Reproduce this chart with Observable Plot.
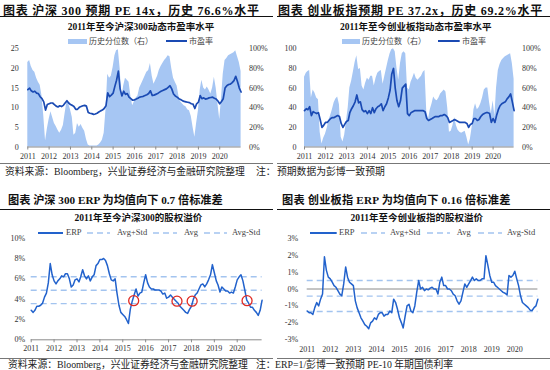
<!DOCTYPE html>
<html><head><meta charset="utf-8">
<script src="https://cdn.jsdelivr.net/npm/d3@7"></script>
<script src="https://cdn.jsdelivr.net/npm/@observablehq/plot@0.6"></script>
<style>
body{margin:0;background:#fff}
#root{position:relative;width:550px;height:370px;overflow:hidden;background:#fff;font-family:"Liberation Serif","Noto Sans CJK SC",serif;color:#222}
.t{position:absolute;white-space:nowrap;line-height:1}
.bar{position:absolute}
</style>
</head><body><div id="root"></div>
<script>
// ---------- data (monthly, starting Jan 2011) ----------
const yearLabels = [2011,2012,2013,2014,2015,2016,2017,2018,2019,2020];
const hs300PE = [14.6,15.0,14.3,14.0,14.2,13.7,13.6,12.8,12.3,11.5,9.4,10.8,
11.0,11.2,11.2,10.8,10.4,10.2,10.5,10.3,10.6,11.2,11.8,11.2,
10.8,10.6,10.3,9.6,9.6,10.1,10.3,10.5,10.6,10.4,8.8,8.6,
8.5,8.3,8.4,8.6,8.9,9.2,9.4,9.8,10.5,13.8,12.8,13.2,
13.7,15.5,17.0,19.3,14.8,13.0,14.2,13.4,13.6,12.7,12.3,11.9,
12.0,12.2,12.4,12.7,12.8,12.9,13.1,13.3,13.6,14.3,13.1,13.2,
13.4,13.6,13.9,14.2,14.4,14.6,14.8,15.2,15.6,14.8,13.5,13.0,
12.7,12.3,12.1,11.8,11.6,11.5,11.4,11.3,11.0,10.9,9.8,11.0,
11.4,13.1,12.3,12.5,12.2,12.3,12.5,12.6,12.7,12.4,12.2,11.7,
11.0,11.6,12.3,15.0,15.6,15.9,16.0,16.4,16.9,18.0,16.6,15.0,
14.0];
const hs300Pct = [86,88,82,78,76,70,66,63,52,32,6,18,
28,36,30,24,21,17,14,17,22,34,46,44,
38,30,12,14,24,20,23,19,16,8,2,1,
1,1,1,1,2,4,7,14,38,74,70,72,
81,93,98,99,80,50,62,70,68,66,52,42,
46,50,52,60,64,68,72,76,78,85,72,64,
68,72,78,82,85,88,90,93,92,80,70,66,
62,52,46,44,42,41,38,37,31,20,10,24,
37,58,68,60,58,61,58,54,60,71,60,44,
28,50,74,88,90,93,94,95,96,98,92,86,
77];
const cybPE = [37,39,38,41,32,36,35,34,35,28,20,22,
25,25,27,29,30,30,31,32,31,24,20,23,
26,27,35,39,42,46,53,45,46,38,36,37,
34,37,34,40,35,39,41,42,44,37,41,44,
50,58,74,80,60,47,41,47,60,62,64,34,
32,35,36,37,37,37,37,37,37,36,29,27,
28,29,30,31,31,31,32,32,33,32,30,25,
26,27,28,27,26,25,25,25,25,24,20,23,
24,29,29,27,28,31,33,34,35,35,34,25,
29,25,32,38,42,44,45,46,49,51,54,46,
37];
const cybPct = [71,75,77,78,50,58,55,50,48,15,3,9,
13,19,27,32,38,45,49,51,43,10,5,12,
26,40,60,67,76,86,93,79,80,62,58,65,
70,68,72,72,62,70,75,77,78,64,72,80,
88,95,99,100,97,80,68,85,95,97,95,60,
58,66,70,75,70,68,70,72,76,78,36,28,
38,44,51,48,47,50,54,56,58,56,40,15,
16,22,30,22,17,15,14,15,16,10,2,8,
20,38,44,38,40,44,50,58,60,60,45,34,
47,31,60,78,84,88,90,92,93,94,95,85,
69];
const hs300ERP = [2.9,2.7,2.9,3.3,3.3,3.4,3.6,4.2,4.6,5.6,7.5,6.4,
5.8,5.5,5.8,6.0,6.3,6.2,6.5,6.5,6.0,5.2,5.4,5.9,
6.0,5.7,6.2,6.9,6.3,6.0,6.3,5.8,6.2,6.4,7.3,7.5,
7.9,7.9,8.0,7.8,7.3,6.5,5.9,5.8,6.0,4.6,3.4,2.7,
2.5,2.3,2.0,1.6,3.0,3.8,4.4,5.0,4.3,4.6,4.7,5.6,
6.4,5.6,5.2,5.0,5.0,4.9,4.9,4.9,4.8,4.5,4.6,4.1,
4.2,4.4,4.2,4.0,3.8,3.6,3.3,3.1,2.9,2.7,2.6,3.0,
3.3,4.0,4.4,4.6,5.0,5.4,5.5,5.2,5.5,5.9,6.4,7.4,
6.6,5.8,5.4,4.7,5.2,5.0,4.8,4.8,4.6,4.7,4.6,5.2,
5.9,6.2,6.4,5.8,4.9,3.9,3.6,3.2,3.2,2.9,2.7,2.4,
2.9,3.9];
const hs300Bands = [6.2, 4.88, 3.56];          // Avg+Std, Avg, Avg-Std (%)
const cybERP = [-1.3,-1.4,-1.4,-1.5,-1.1,-0.8,-1.0,-0.6,-0.3,1.9,1.1,0.7,
0.6,0.4,0.2,0.1,-0.1,-0.3,-0.4,0.3,1.3,0.7,0.4,0.3,
0.2,-0.7,-1.1,-1.4,-1.7,-1.9,-2.1,-2.2,-2.35,-2.0,-1.9,-1.7,
-1.8,-1.5,-1.4,-1.4,-1.6,-1.5,-1.5,-1.3,-1.4,-0.6,-0.8,-1.2,
-1.7,-2.0,-2.3,-1.6,-1.0,-0.9,-1.3,-1.4,-1.0,-0.2,0.5,0.0,
0.1,-0.1,0.0,-0.05,0.05,0.1,0.0,0.0,-0.3,0.4,0.7,0.2,
0.2,0.0,0.0,-0.1,-0.3,-0.4,-0.7,-0.9,-0.7,-0.2,0.3,0.1,
0.3,0.5,0.7,0.5,0.6,0.5,0.5,0.6,0.6,1.97,1.4,0.8,
0.4,0.4,0.2,0.1,0.0,-0.1,-0.2,-0.25,-0.35,0.8,0.7,0.8,
1.05,0.6,0.2,-0.4,-0.8,-0.9,-1.0,-1.1,-1.25,-1.27,-1.1,-1.0,
-0.6];
const cybBands = [0.5, -0.42, -1.33];
const circleDates = ["2015-06-24","2017-05-15","2018-01-12","2020-06-06"];
const circleVals = [3.85, 3.8, 3.8, 3.85];
const peTicksTL = [0,5,10,15,20,25];
const peTicksTR = [0,20,40,60,80,100];
const pctTicks = [0,20,40,60,80,100];
const erpTicksL = [0,2,4,6,8,10];
const erpTicksR = [-3,-2,-1,0,1,2,3];

// ---------- colors ----------
const AREA = "#a6c6f3", PELINE = "#1a4ab3", ERPLINE = "#2262cc", DASH = "#a3c4ef", CIRC = "#e02a22";
const FONT = "'Liberation Serif', 'Noto Sans CJK SC', serif";

const root = document.getElementById("root");
const md = i => new Date(Date.UTC(2011, i, 1));
const yd = y => new Date(Date.UTC(y, 0, 1));
const yearTicks = yearLabels.map(yd);

function text(s, x, cy, size, opts = {}) {
  const d = document.createElement("div");
  d.className = "t";
  d.textContent = s;
  d.style.fontSize = size + "px";
  d.style.left = x + "px";
  d.style.top = (cy - size / 2) + "px";
  if (opts.bold) d.style.fontWeight = "bold";
  if (opts.color) d.style.color = opts.color;
  if (opts.ls) d.style.letterSpacing = opts.ls + "px";
  if (opts.center) d.style.transform = "translateX(-50%)";
  root.appendChild(d);
}
function bar(x, y, w, h, color) {
  const d = document.createElement("div");
  d.className = "bar";
  Object.assign(d.style, {left: x + "px", top: y + "px", width: w + "px", height: h + "px", background: color});
  root.appendChild(d);
}
function swLine(x1, x2, y, color, width, dash) {
  const w = x2 - x1;
  const ns = "http://www.w3.org/2000/svg";
  const s = document.createElementNS(ns, "svg");
  s.setAttribute("width", w); s.setAttribute("height", 6);
  Object.assign(s.style, {position: "absolute", left: x1 + "px", top: (y - 3) + "px"});
  const l = document.createElementNS(ns, "line");
  l.setAttribute("x1", 0); l.setAttribute("x2", w); l.setAttribute("y1", 3); l.setAttribute("y2", 3);
  l.setAttribute("stroke", color); l.setAttribute("stroke-width", width);
  if (dash) l.setAttribute("stroke-dasharray", dash);
  s.appendChild(l);
  root.appendChild(s);
}
function place(svg, left, top) {
  svg.style.position = "absolute";
  svg.style.left = left + "px";
  svg.style.top = top + "px";
  root.appendChild(svg);
}
const baseStyle = {background: "transparent", overflow: "visible", fontFamily: FONT, fontSize: "8px", color: "#333"};

// ---------- headers ----------
text("图表 沪深 300 预期 PE 14x，历史 76.6%水平", 3, 10.5, 12, {bold: true, color: "#111", ls: 0.75});
text("图表 创业板指预期 PE 37.2x，历史 69.2%水平", 278, 10.5, 12, {bold: true, color: "#111", ls: 0.75});
bar(0, 16.2, 273, 1.2, "#111"); bar(277, 16.2, 273, 1.2, "#111");
text("2011年至今沪深300动态市盈率水平", 141, 27.3, 9.5, {bold: true, center: true, color: "#111"});
text("2011年至今创业板指动态市盈率水平", 415.7, 27.3, 9.5, {bold: true, center: true, color: "#111"});

text("图表 沪深 300 ERP 为均值向下 0.7 倍标准差", 8, 200.5, 11.2, {bold: true, color: "#111"});
text("图表 创业板指 ERP 为均值向下 0.16 倍标准差", 282, 200.5, 11.2, {bold: true, color: "#111", ls: 0.2});
bar(0, 208.5, 273, 1.2, "#111"); bar(277, 208.5, 273, 1.2, "#111");
text("2011年至今沪深300的股权溢价", 138.3, 218.3, 9.5, {bold: true, center: true, color: "#111"});
text("2011年至今创业板指的股权溢价", 416.7, 218.3, 9.5, {bold: true, center: true, color: "#111"});

// legends (top)
bar(68, 39.3, 19, 5, AREA); text("历史分位数（右）", 89, 41.5, 8, {color: "#444"});
swLine(166, 187, 41.3, PELINE, 2); text("市盈率", 189, 41.5, 8, {color: "#444"});
bar(341.7, 39.3, 18.5, 5, AREA); text("历史分位数（右）", 362, 41.5, 8, {color: "#444"});
swLine(438.3, 460, 41.3, PELINE, 2); text("市盈率", 462, 41.5, 8, {color: "#444"});
// legends (bottom)
[[37.7, 63.3, 66, 87, 110, 117, 153, 177, 184, 204, 227, 232],
 [310, 336.7, 339, 361, 385, 390, 426.7, 450, 456.7, 478, 502, 507]].forEach(p => {
  swLine(p[0], p[1], 232.7, ERPLINE, 2); text("ERP", p[2], 232.7, 8.5, {color: "#444"});
  swLine(p[3], p[4], 232.7, DASH, 1.4, "6,4"); text("Avg+Std", p[5], 232.7, 8.5, {color: "#444"});
  swLine(p[6], p[7], 232.7, DASH, 1.4, "6,4"); text("Avg", p[8], 232.7, 8.5, {color: "#444"});
  swLine(p[9], p[10], 232.7, DASH, 1.4, "6,4"); text("Avg-Std", p[11], 232.7, 8.5, {color: "#444"});
});

// footers
const FS = 9.8;
bar(0, 163, 273, 1, "#777"); bar(277, 163, 273, 1, "#777");
text("资料来源：Bloomberg，兴业证券经济与金融研究院整理", 5, 172, FS, {color: "#222"});
text("注：", 256, 172, FS, {color: "#222"});
text("预期数据为彭博一致预期", 277, 172, FS, {color: "#222"});
bar(0, 358, 273, 1, "#777"); bar(277, 358, 273, 1, "#777");
text("资料来源：Bloomberg，兴业证券经济与金融研究院整理", 8, 364.8, FS, {color: "#222"});
text("注：", 256, 364.8, FS, {color: "#222"});
text("ERP=1/彭博一致预期 PE-10 年期国债利率", 275, 364.8, FS, {color: "#222"});

// ---------- top panels: area (right axis) + PE line (left axis) ----------
function topPanel(left, PE, PCT, peTicks, peMax, geom) {
  const data = PE.map((v, i) => ({date: md(i), pe: v, pct: PCT[i]}));
  const xdom = [md(0), md(PE.length - 1)];
  const common = {width: 275, height: 121, marginLeft: geom.mL, marginRight: geom.mR, marginTop: 4.3, marginBottom: 18.5, style: baseStyle};
  const area = Plot.plot({...common,
    x: {type: "utc", domain: xdom, axis: null},
    y: {domain: [0, 100], label: null},
    marks: [
      Plot.areaY(data, {x: "date", y: "pct", fill: AREA}),
      Plot.axisY({anchor: "right", ticks: pctTicks, tickFormat: d => d + "%", tickSize: 0, tickPadding: 8})
    ]});
  place(area, left, 44);
  const line = Plot.plot({...common,
    x: {type: "utc", domain: xdom, label: null},
    y: {domain: [0, peMax], label: null},
    marks: [
      Plot.ruleY([0], {stroke: "#8a8a8a", strokeWidth: 1}),
      Plot.lineY(data, {x: "date", y: "pe", stroke: PELINE, strokeWidth: 1.7}),
      Plot.axisX({ticks: yearTicks, tickFormat: "%Y", tickSize: 3, tickPadding: 3.5, stroke: "#8a8a8a"}),
      Plot.axisY({anchor: "left", ticks: peTicks, tickSize: 0, tickPadding: geom.pad})
    ]});
  place(line, left, 44);
}
topPanel(0, hs300PE, hs300Pct, peTicksTL, 25, {mL: 27.3, mR: 34.4, pad: 9});
topPanel(275, cybPE, cybPct, peTicksTR, 100, {mL: 29, mR: 36.4, pad: 8});

// ---------- bottom-left ERP ----------
{
  const data = hs300ERP.map((v, i) => ({date: md(i), v}));
  const circles = circleDates.map((d, i) => ({date: new Date(d), v: circleVals[i]}));
  const p = Plot.plot({width: 275, height: 123, marginLeft: 30.7, marginRight: 13.4, marginTop: 2.7, marginBottom: 18.7, style: baseStyle,
    x: {type: "utc", domain: [md(0), md(hs300ERP.length - 1)], label: null},
    y: {domain: [0, 10], label: null},
    marks: [
      Plot.ruleY(hs300Bands, {stroke: DASH, strokeWidth: 1.4, strokeDasharray: "6,4"}),
      Plot.ruleY([0], {stroke: "#8a8a8a"}),
      Plot.lineY(data, {x: "date", y: "v", stroke: ERPLINE, strokeWidth: 1.5}),
      Plot.dot(circles, {x: "date", y: "v", r: 5, stroke: CIRC, strokeWidth: 1.3, fill: "none"}),
      Plot.axisX({ticks: yearTicks, tickFormat: "%Y", tickSize: 3, tickPadding: 3, stroke: "#8a8a8a"}),
      Plot.axisY({ticks: erpTicksL, tickFormat: d => d + "%", tickSize: 0, tickPadding: 6})
    ]});
  place(p, 0, 235);
}
// ---------- bottom-right ERP ----------
{
  const data = cybERP.map((v, i) => ({date: md(i), v}));
  const p = Plot.plot({width: 275, height: 123, marginLeft: 31.7, marginRight: 12.6, marginTop: 2.7, marginBottom: 18.7, style: baseStyle,
    x: {type: "utc", domain: [md(0), md(cybERP.length - 1)], label: null},
    y: {domain: [-3, 3], label: null},
    marks: [
      Plot.ruleY(cybBands, {stroke: DASH, strokeWidth: 1.4, strokeDasharray: "6,4"}),
      Plot.ruleY([0], {stroke: "#8a8a8a"}),
      Plot.lineY(data, {x: "date", y: "v", stroke: ERPLINE, strokeWidth: 1.5}),
      Plot.axisX({ticks: yearTicks, tickFormat: "%Y", tickSize: 0, tickPadding: 6.5}),
      Plot.axisY({ticks: erpTicksR, tickFormat: d => d + "%", tickSize: 0, tickPadding: 9})
    ]});
  place(p, 275, 235);
}
</script></body></html>
